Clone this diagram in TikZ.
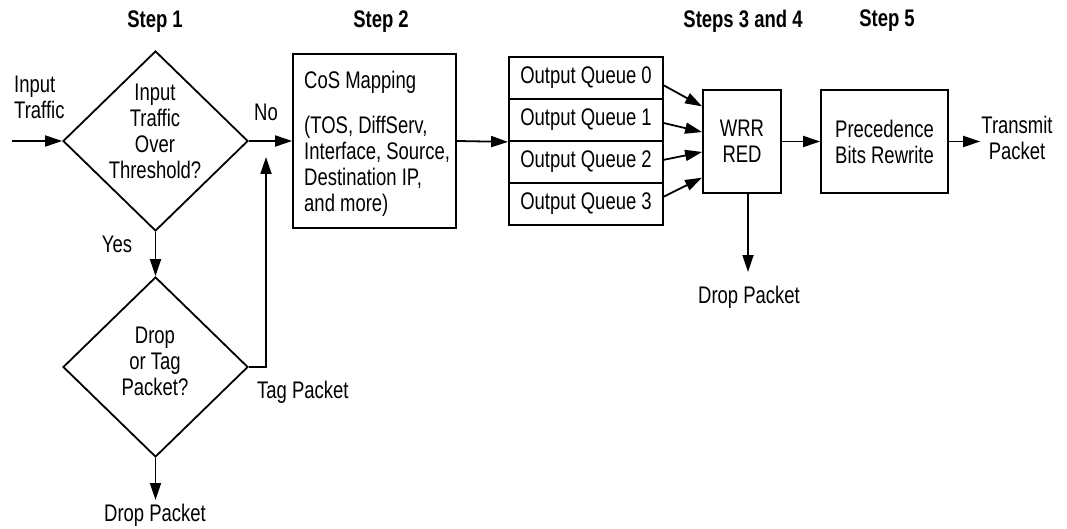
\documentclass[tikz,border=0pt]{standalone}
\usepackage{fontspec}
\setmainfont{Liberation Sans}[FakeStretch=0.77]
\usetikzlibrary{arrows.meta,shapes.geometric,calc}

\begin{document}
\begin{tikzpicture}[x=1pt,y=-1pt,
  every node/.style={font=\fontsize{24}{26}\selectfont},
  arr/.style={line width=1.8pt,-{Triangle[length=17pt,width=11pt]}},
  box/.style={draw,line width=1.8pt,inner sep=0pt},
  decision/.style={draw,diamond,line width=1.8pt,inner sep=0pt,
                   minimum width=185pt,minimum height=180pt},
  head/.style={font=\fontsize{24}{26}\selectfont\bfseries},
  lbl/.style={inner sep=1pt,align=center}]

\useasboundingbox (0,0) rectangle (1067,529);

% column headings
\node[head] (h1) at (155,22) {Step 1};
\node[head] (h2) at (381,22) {Step 2};
\node[head] (h34) at (743,21) {Steps 3 and 4};
\node[head] (h5) at (887,21) {Step 5};

% step 1: policing decisions
\node[decision] (d1) at (155.5,141) {};
\node[lbl] (d1t) at (155,131) {Input\\Traffic\\Over\\Threshold?};
\node[decision] (d2) at (155.5,367) {};
\node[lbl] (d2t) at (155,361) {Drop\\or Tag\\Packet?};

\node[lbl,align=left,anchor=west] (intxt) at (13,97) {Input\\Traffic};
\node[lbl] (no) at (266,112) {No};
\node[lbl] (yes) at (117,244) {Yes};
\node[lbl,anchor=west] (tag) at (256,392) {Tag Packet};
\node[lbl] (drop1) at (155,515) {Drop Packet};

% step 2: classification
\node[box,minimum width=163pt,minimum height=174pt] (cos) at (374.5,141) {};
\node[lbl,align=left,anchor=west] (costxt) at (303,144)
  {CoS Mapping\\[19pt](TOS, DiffServ,\\Interface, Source,\\Destination IP,\\and more)};

% output queues
\node[box,minimum width=154pt,minimum height=42pt] (q0) at (586,78) {Output Queue 0};
\node[box,minimum width=154pt,minimum height=42pt] (q1) at (586,120) {Output Queue 1};
\node[box,minimum width=154pt,minimum height=42pt] (q2) at (586,162) {Output Queue 2};
\node[box,minimum width=154pt,minimum height=42pt] (q3) at (586,204) {Output Queue 3};

% steps 3 to 5
\node[box,minimum width=78pt,minimum height=103pt,align=center] (wrr) at (742,141.5) {WRR\\RED};
\node[box,minimum width=127pt,minimum height=103pt,align=center] (prec) at (884.5,141.5) {Precedence\\Bits Rewrite};
\node[lbl] (tx) at (1017,138) {Transmit\\Packet};
\node[lbl] (drop2) at (749,297) {Drop Packet};

% connectors
\coordinate (in) at (12,141);
\coordinate (merge) at (266,157);
\coordinate (drop1end) at (155.5,500);
\coordinate (drop2end) at (748,272);

\draw[arr] (in) -- (d1.west);
\draw[arr] (d1.east) -- (cos.west);
\draw[arr] (d1.south) -- (d2.north);
\draw[arr] (d2.south) -- (drop1end);
\draw[arr] (d2.east) -| (merge);
\draw[arr] (cos.east) -- (q1.south west);

\draw[arr] ($(q0.north east)!0.67!(q0.south east)$) -- ($(wrr.north west)!0.165!(wrr.south west)$);
\draw[arr] ($(q1.north east)!0.57!(q1.south east)$) -- ($(wrr.north west)!0.41!(wrr.south west)$);
\draw[arr] ($(q2.north east)!0.45!(q2.south east)$) -- ($(wrr.north west)!0.60!(wrr.south west)$);
\draw[arr] ($(q3.north east)!0.33!(q3.south east)$) -- ($(wrr.north west)!0.845!(wrr.south west)$);

\draw[arr] (wrr.east) -- (prec.west);
\draw[arr] (prec.east) -- (prec.east -| tx.west);
\draw[arr] (drop2end |- wrr.south) -- (drop2end);
\end{tikzpicture}
\end{document}
